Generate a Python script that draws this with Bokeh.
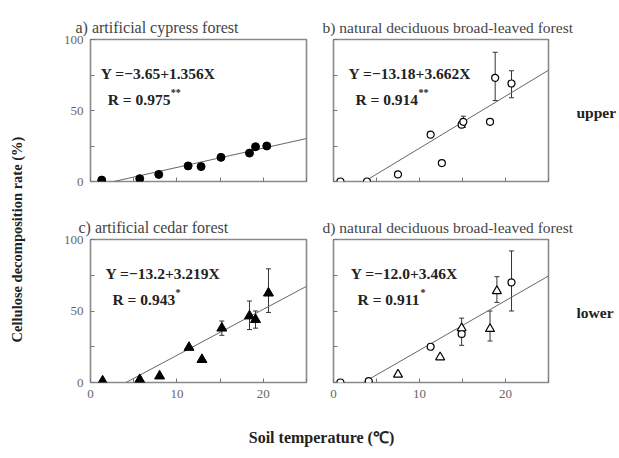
import numpy as np
from bokeh.plotting import figure
from bokeh.models import Label, Whisker, TeeHead, ColumnDataSource, FixedTicker, Range1d
from bokeh.layouts import row, column
from bokeh.embed import file_html
from bokeh.resources import INLINE

SERIF = "Liberation Serif"

# ---------------- data ----------------
x_ticks = [0, 10, 20]
x_minor = [5, 15, 25]
y_ticks = [0, 50, 100]
y_minor = [25, 75]

titles = ["a) artificial cypress forest",
          "b) natural deciduous broad-leaved forest",
          "c) artificial cedar forest",
          "d) natural deciduous broad-leaved forest"]
side_labels = ["upper", "lower"]

# a) artificial cypress forest (upper)
a_temp = [1.3, 5.7, 7.9, 11.3, 12.8, 15.1, 18.4, 19.1, 20.4]
a_rate = [1, 2, 5, 11, 10.5, 17, 20, 24.5, 25]

# b) natural deciduous broad-leaved forest (upper)
b_temp = [0.8, 3.9, 7.5, 11.3, 12.6, 14.9, 15.1, 18.2, 18.8, 20.7]
b_rate = [0, 0, 5, 33, 13, 40, 42, 42, 73, 69]
b_err_temp = [15.1, 18.8, 20.7]
b_err_lo = [38, 57, 59]
b_err_hi = [46, 91, 78]

# c) artificial cedar forest (lower)
c_temp = [1.4, 5.7, 8.0, 11.4, 12.9, 15.2, 18.4, 19.1, 20.6]
c_rate = [1, 2, 4.5, 24.5, 16, 38, 46.5, 44, 62.5]
c_err_temp = [15.2, 18.4, 19.1, 20.6]
c_err_lo = [33, 37, 38, 49]
c_err_hi = [43, 57, 50, 79.5]

# d) natural deciduous broad-leaved forest (lower)
d_circ_temp = [0.8, 4.1, 11.3, 14.9, 20.7]
d_circ_rate = [0, 1, 25, 34, 70]
d_tri_temp = [7.5, 12.4, 14.9, 18.2, 19.0]
d_tri_rate = [5.6, 17.7, 38, 37.5, 64]
d_err_temp = [14.9, 18.2, 19.0, 20.7]
d_err_lo = [26, 29, 56, 50]
d_err_hi = [45, 50, 74, 92]

# regression: intercept, slope, equation text, R text, significance
reg_a = (-3.65, 1.356, "Y =\u22123.65+1.356X", "R = 0.975", "**")
reg_b = (-13.18, 3.662, "Y =\u221213.18+3.662X", "R = 0.914", "**")
reg_c = (-13.2, 3.219, "Y =\u221213.2+3.219X", "R = 0.943", "*")
reg_d = (-12.0, 3.46, "Y =\u221212.0+3.46X", "R = 0.911", "*")


def panel(width, height, left, right, top, bottom, title, toff, tsize, show_x, show_y):
    p = figure(width=width, height=height, x_range=Range1d(0, 25), y_range=Range1d(0, 100),
               output_backend="svg", toolbar_location=None,
               min_border_left=left, min_border_right=right,
               min_border_top=top, min_border_bottom=bottom)
    p.title.text = title
    p.title.text_font = SERIF
    p.title.text_font_size = tsize
    p.title.text_font_style = "normal"
    p.title.text_color = "#444444"
    p.title.align = "left"
    p.title.offset = toff
    p.title.standoff = 8
    p.grid.visible = False
    p.outline_line_color = "#8a8a8a"
    p.outline_line_width = 1.6
    if show_x:
        p.xaxis.ticker = FixedTicker(ticks=x_ticks, minor_ticks=x_minor)
    else:
        p.xaxis.ticker = FixedTicker(ticks=[], minor_ticks=x_ticks + x_minor)
    if show_y:
        p.yaxis.ticker = FixedTicker(ticks=y_ticks, minor_ticks=y_minor)
    else:
        p.yaxis.ticker = FixedTicker(ticks=[], minor_ticks=y_ticks + y_minor)
    for ax in (p.xaxis[0], p.yaxis[0]):
        ax.axis_line_color = None
        ax.major_tick_in = 4
        ax.major_tick_out = 0
        ax.minor_tick_in = 4
        ax.minor_tick_out = 0
        ax.major_tick_line_color = "#777777"
        ax.minor_tick_line_color = "#777777"
        ax.major_label_text_font = SERIF
        ax.major_label_text_font_size = "13px"
        ax.major_label_text_color = "#666666"
        ax.major_label_standoff = 7
    return p


def add_reg(p, reg, xeq, xr):
    b0, b1, eq, rtxt, sig = reg
    x0 = -b0 / b1
    xs = np.array([x0, 25.0])
    p.line(xs, b0 + b1 * xs, line_color="#666666", line_width=1)
    p.add_layout(Label(x=xeq, y=76, text=eq, text_font=SERIF, text_font_size="15.5px",
                       text_font_style="bold", text_color="#222222", text_baseline="middle"))
    p.add_layout(Label(x=xr, y=58, text=rtxt, text_font=SERIF, text_font_size="15.5px",
                       text_font_style="bold", text_color="#222222", text_baseline="middle"))
    p.add_layout(Label(x=xr, y=58, x_offset=63, y_offset=7, text=sig, text_font=SERIF,
                       text_font_size="10px", text_font_style="bold", text_color="#222222",
                       text_baseline="middle"))


def add_err(p, t, lo, hi):
    src = ColumnDataSource(dict(t=t, lo=lo, hi=hi))
    w = Whisker(source=src, base="t", lower="lo", upper="hi", dimension="height",
                line_color="#333333", line_width=1,
                upper_head=TeeHead(size=5, line_color="#333333", line_width=1),
                lower_head=TeeHead(size=5, line_color="#333333", line_width=1))
    p.add_layout(w)


# panel a
pa = panel(270, 200, 50, 4, 39, 19, titles[0], -15, "16px", False, True)
add_reg(pa, reg_a, 1.2, 2.0)
pa.scatter(a_temp, a_rate, marker="circle", size=8, fill_color="black", line_color="black")

# panel b
pb = panel(266, 200, 23, 28, 39, 19, titles[1], -11, "15.5px", False, False)
add_reg(pb, reg_b, 1.75, 2.55)
add_err(pb, b_err_temp, b_err_lo, b_err_hi)
pb.scatter(b_temp, b_rate, marker="circle", size=7, fill_color="white", line_color="black",
           line_width=1.2)

# panel c
pc = panel(270, 210, 50, 4, 39, 28, titles[2], -12, "16px", True, True)
add_reg(pc, reg_c, 1.75, 2.55)
add_err(pc, c_err_temp, c_err_lo, c_err_hi)
pc.scatter(c_temp, c_rate, marker="triangle", size=10, fill_color="black", line_color="black")

# panel d
pd_ = panel(266, 210, 23, 28, 39, 28, titles[3], -11, "15.5px", True, False)
add_reg(pd_, reg_d, 2.0, 2.8)
add_err(pd_, d_err_temp, d_err_lo, d_err_hi)
pd_.scatter(d_circ_temp, d_circ_rate, marker="circle", size=7, fill_color="white",
            line_color="black", line_width=1.2)
pd_.scatter(d_tri_temp, d_tri_rate, marker="triangle", size=9, fill_color="white",
            line_color="black", line_width=1.2)


def blank(width, height):
    f = figure(width=width, height=height, x_range=Range1d(0, 1), y_range=Range1d(0, 1),
               x_axis_type=None, y_axis_type=None, output_backend="svg",
               toolbar_location=None, min_border=0)
    f.outline_line_color = None
    f.grid.visible = False
    return f


ylab = blank(40, 410)
ylab.add_layout(Label(x=16, y=171, x_units="screen", y_units="screen", angle=np.pi / 2,
                      text="Cellulose decomposition rate (%)", text_font=SERIF,
                      text_font_size="14.5px", text_font_style="bold", text_color="#222222",
                      text_align="center", text_baseline="middle"))

rlab = blank(43, 410)
rlab.add_layout(Label(x=0, y=298, x_units="screen", y_units="screen", text=side_labels[0],
                      text_font=SERIF, text_font_size="15.5px", text_font_style="bold",
                      text_color="#222222", text_baseline="middle"))
rlab.add_layout(Label(x=0, y=98, x_units="screen", y_units="screen", text=side_labels[1],
                      text_font=SERIF, text_font_size="15.5px", text_font_style="bold",
                      text_color="#222222", text_baseline="middle"))

xlab = blank(619, 48)
xlab.add_layout(Label(x=321, y=21, x_units="screen", y_units="screen",
                      text="Soil temperature (\u2103)", text_font=SERIF,
                      text_font_size="16px", text_font_style="bold", text_color="#222222",
                      text_align="center", text_baseline="middle"))

grid = column(row(pa, pb), row(pc, pd_))
layout = column(row(ylab, grid, rlab), xlab)

open("out.html", "w").write(file_html(layout, INLINE))
